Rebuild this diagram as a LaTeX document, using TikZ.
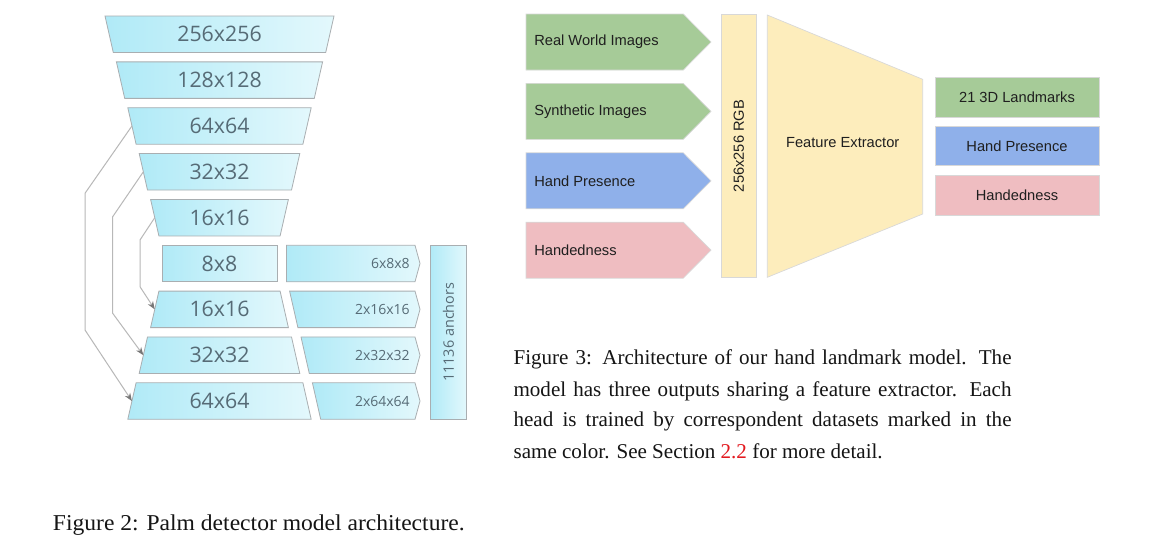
\documentclass[tikz,border=0pt]{standalone}
\usepackage{fontspec}
\setmainfont{Liberation Serif}
\newfontfamily\gsans{Open Sans}
\newfontfamily\arialf{Liberation Sans}
\newfontfamily\capfontA[FakeStretch=1.04]{Liberation Serif}
\usetikzlibrary{arrows.meta,calc}
\definecolor{cyanL}{HTML}{B0EAF7}
\definecolor{cyanR}{HTML}{E3F8FC}
\definecolor{palmedge}{HTML}{A9AEB1}
\definecolor{palmtext}{HTML}{566B76}
\definecolor{skipline}{HTML}{B8B8B8}
\definecolor{skiptip}{HTML}{777777}
\definecolor{hgreen}{HTML}{A6CB98}
\definecolor{hblue}{HTML}{8FB0EA}
\definecolor{hpink}{HTML}{EFBDC1}
\definecolor{hyellow}{HTML}{FDEDBC}
\definecolor{hedge}{HTML}{D8D8D8}
\definecolor{captxt}{HTML}{151515}
\definecolor{refred}{HTML}{E3191F}
\begin{document}
\begin{tikzpicture}[x=0.75pt,y=-0.75pt,
  palmbox/.style={left color=cyanL, right color=cyanR, draw=palmedge, line width=0.6pt},
  palmtxt/.style={font=\gsans\fontsize{16}{18}\selectfont, text=palmtext, inner sep=0pt},
  headtxt/.style={font=\gsans\fontsize{10.5}{12}\selectfont, text=palmtext, inner sep=0pt},
  skipconn/.style={draw=skipline, line width=0.75pt, -{Stealth[length=6pt,width=4.6pt,color=skiptip]}},
  handbox/.style={draw=hedge, line width=0.5pt},
  handtxt/.style={font=\arialf\fontsize{11}{13}\selectfont, text=black!88, inner sep=0pt},
  captxtA/.style={font=\capfontA\fontsize{17}{20}\selectfont, text=captxt, inner sep=0pt},
  captxtB/.style={font=\fontsize{15.8}{19}\selectfont, text=captxt, inner sep=0pt}
]
\fill[white] (0,0) rectangle (1161,553);
\useasboundingbox (0,0) rectangle (1161,553);

% ---------------- Palm detector (left) ----------------
% encoder rows
\foreach \i/\lab in {0/256x256,1/128x128,2/64x64,3/32x32,4/16x16}{
  \pgfmathsetmacro\tt{16+45.85*\i}
  \pgfmathsetmacro\bb{\tt+36.5}
  \pgfmathsetmacro\ll{105+11.4*\i}
  \pgfmathsetmacro\rr{334-11.4*\i}
  \path[palmbox] (\ll,\tt) -- (\rr,\tt) -- (\rr-8.3,\bb) -- (\ll+8.3,\bb) -- cycle;
  \node[palmtxt] (e\i) at (219.5,{(\tt+\bb)/2}) {\lab};
  \coordinate (eL\i) at ({\ll+4.15},{(\tt+\bb)/2});
}
% bottleneck 8x8
\path[palmbox] (162,245.25) rectangle (277,281.75);
\node[palmtxt] (e5) at (219.5,263.5) {8x8};
% decoder rows
\foreach \i/\j/\lab in {6/4/16x16,7/3/32x32,8/2/64x64}{
  \pgfmathsetmacro\tt{16+45.85*\i}
  \pgfmathsetmacro\bb{\tt+36.5}
  \pgfmathsetmacro\ll{105+11.4*\j}
  \pgfmathsetmacro\rr{334-11.4*\j}
  \path[palmbox] (\ll+8.3,\tt) -- (\rr-8.3,\tt) -- (\rr,\bb) -- (\ll,\bb) -- cycle;
  \node[palmtxt] (d\i) at (219.5,{(\tt+\bb)/2}) {\lab};
  \coordinate (dL\i) at ({\ll+4.15},{(\tt+\bb)/2});
  % head
  \path[palmbox] (\rr-8.3+9.5,\tt) -- (415,\tt) -- (420,{(\tt+\bb)/2}) -- (415,\bb) -- (\rr+9.5,\bb) -- cycle;
}
\path[palmbox] (286.5,245.25) -- (415,245.25) -- (420,263.5) -- (415,281.75) -- (286.5,281.75) -- cycle;
\node[headtxt, anchor=east] (h5) at (410,263.5) {6x8x8};
\node[headtxt, anchor=east] (h6) at (410,{16+45.85*6+18.25}) {2x16x16};
\node[headtxt, anchor=east] (h7) at (410,{16+45.85*7+18.25}) {2x32x32};
\node[headtxt, anchor=east] (h8) at (410,{16+45.85*8+18.25}) {2x64x64};
% anchors bar
\path[palmbox] (430,245.25) rectangle (466.7,419.3);
\node[headtxt, rotate=90, font=\gsans\fontsize{10.8}{12}\selectfont] (anch) at (448.35,332.3) {11136 anchors};

% skip connections
\coordinate (sa1) at (85,193.3);  \coordinate (sa2) at (85,330);
\coordinate (sb1) at (112.7,216.7); \coordinate (sb2) at (112.7,313.3);
\coordinate (sc1) at (140,240);   \coordinate (sc2) at (140,286.7);
\draw[skipconn] (eL2) -- (sa1) -- (sa2) -- (dL8);
\draw[skipconn] (eL3) -- (sb1) -- (sb2) -- (dL7);
\draw[skipconn] (eL4) -- (sc1) -- (sc2) -- (dL6);

\node[captxtA, anchor=base west] (cap2) at (52.7,530) {Figure 2: Palm detector model architecture.};

% ---------------- Hand landmark model (right) ----------------
\foreach \i/\lab/\col in {0/Real World Images/hgreen,1/Synthetic Images/hgreen,2/Hand Presence/hblue,3/Handedness/hpink}{
  \pgfmathsetmacro\tt{14+69.4*\i}
  \pgfmathsetmacro\bb{\tt+56}
  \path[handbox, fill=\col] (526,\tt) -- (683.3,\tt) -- (711,{(\tt+\bb)/2}) -- (683.3,\bb) -- (526,\bb) -- cycle;
  \node[handtxt, anchor=west] (in\i) at (534,{(\tt+\bb)/2}) {\lab};
}
\path[handbox, fill=hyellow] (721.7,14.7) rectangle (756,277.3);
\node[handtxt, rotate=90] (rgb) at (738.9,146) {256x256 RGB};
\path[handbox, fill=hyellow] (767.3,15) -- (922.7,79.3) -- (922.7,214) -- (767.3,277.3) -- cycle;
\node[handtxt] (fe) at (842.7,142.7) {Feature Extractor};
\path[handbox, fill=hgreen] (935,77.7) rectangle (1099,117.3);
\node[handtxt] (o1) at (1017,97.5) {21 3D Landmarks};
\path[handbox, fill=hblue] (935,126.7) rectangle (1099,165.7);
\node[handtxt] (o2) at (1017,146.2) {Hand Presence};
\path[handbox, fill=hpink] (935,175.7) rectangle (1099,215);
\node[handtxt] (o3) at (1017,195.3) {Handedness};

\node[captxtB, anchor=base west] (c3a) at (513.3,364.5) {\makebox[373.5pt][s]{Figure 3: Architecture of our hand landmark model. The}};
\node[captxtB, anchor=base west] (c3b) at (513.3,396) {\makebox[373.5pt][s]{model has three outputs sharing a feature extractor. Each}};
\node[captxtB, anchor=base west] (c3c) at (513.3,426.8) {\makebox[373.5pt][s]{head is trained by correspondent datasets marked in the}};
\node[captxtB, anchor=base west] (c3d) at (513.3,458) {same color. See Section \textcolor{refred}{2.2} for more detail.};
\end{tikzpicture}
\end{document}
